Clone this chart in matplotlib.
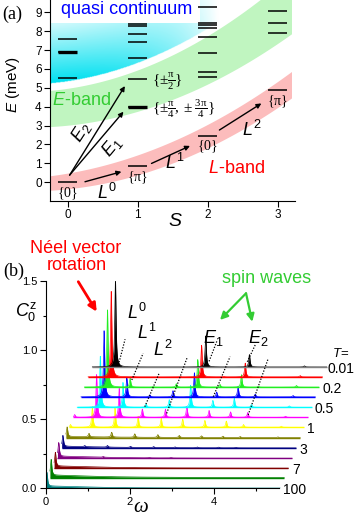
import numpy as np
import matplotlib
matplotlib.use('Agg')
import matplotlib.pyplot as plt
from matplotlib.patches import Rectangle

plt.rcParams['font.family'] = ['Liberation Sans', 'DejaVu Sans']
plt.rcParams['mathtext.fontset'] = 'custom'
plt.rcParams['mathtext.rm'] = 'Liberation Serif'
plt.rcParams['mathtext.it'] = 'Liberation Sans:italic'
plt.rcParams['mathtext.sf'] = 'Liberation Sans'
plt.rcParams['mathtext.bf'] = 'Liberation Sans:bold'

# ---------------- panel (a) data ----------------
spin_S = [0, 1, 2, 3]
levels_S0 = [0.0, 5.5, 6.87, 7.56]
levels_S1 = [0.85, 3.96, 5.44, 6.6, 7.4, 7.83, 8.29, 8.38]
levels_S2 = [2.44, 5.55, 5.82, 6.86, 7.71, 8.19, 8.30, 8.43, 9.26]
levels_S3 = [4.86, 7.92, 8.41, 9.08]
thick_S = [0, 1]
thick_E = [6.87, 3.96]
level_labels = [r'$\mathrm{\{0\}}$', r'$\mathrm{\{\pi\}}$', r'$\mathrm{\{0\}}$', r'$\mathrm{\{\pi\}}$']

band_S = [-0.25, 1.0, 2.0, 3.2]
lband_lo = [-0.42, 0.35, 1.85, 4.45]
lband_hi = [0.35, 1.40, 3.10, 5.85]
eband_lo = [3.0, 3.55, 5.4, 7.8]
eband_hi = [4.9, 5.8, 7.9, 11.0]

# ---------------- panel (b) data ----------------
omega_peaks = [0.03, 0.55, 1.09, 1.64, 2.19, 2.70, 3.23, 3.74, 4.15, 5.05]
trace_labels = ['0.01', '', '0.2', '', '0.5', '', '1', '', '3', '', '7', '', '100']
trace_colors = ['#000000', '#ff0000', '#22ee22', '#0000ff', '#00ffff', '#ff00ff',
                '#ffff00', '#808000', '#000080', '#800080', '#800000', '#008000', '#008080']
x_offsets = [1.11, 1.01, 0.92, 0.84, 0.75, 0.66, 0.56, 0.48, 0.38, 0.28, 0.20, 0.10, 0.0]
y_offsets = [0.879, 0.807, 0.733, 0.662, 0.587, 0.514, 0.442, 0.367, 0.292, 0.217, 0.145, 0.077, 0.0]
peak_heights = [
    [0.0,   0.62, 0.0,   0.0,   0.0,   0.225, 0.0,   0.09,  0.0,   0.008],
    [0.0,   0.62, 0.005, 0.0,   0.004, 0.23,  0.004, 0.10,  0.0,   0.010],
    [0.0,   0.56, 0.065, 0.005, 0.025, 0.20,  0.02,  0.09,  0.005, 0.012],
    [0.0,   0.48, 0.14,  0.015, 0.045, 0.175, 0.035, 0.075, 0.02,  0.010],
    [0.0,   0.37, 0.18,  0.025, 0.055, 0.16,  0.05,  0.065, 0.02,  0.010],
    [0.02,  0.31, 0.21,  0.06,  0.06,  0.08,  0.05,  0.04,  0.035, 0.008],
    [0.02,  0.15, 0.14,  0.08,  0.065, 0.06,  0.05,  0.045, 0.02,  0.008],
    [0.07,  0.025, 0.035, 0.025, 0.02, 0.015, 0.012, 0.010, 0.008, 0.005],
    [0.08,  0.008, 0.012, 0.008, 0.008, 0.006, 0.006, 0.005, 0.004, 0.0],
    [0.10,  0.0,  0.006, 0.0,   0.004, 0.004, 0.0,   0.0,   0.0,   0.0],
    [0.10,  0.0,  0.0,   0.0,   0.0,   0.0,   0.0,   0.0,   0.0,   0.0],
    [0.115, 0.0,  0.0,   0.0,   0.0,   0.0,   0.0,   0.0,   0.0,   0.0],
    [0.10,  0.0,  0.0,   0.0,   0.0,   0.0,   0.0,   0.0,   0.0,   0.0],
]
broad_heights = [0, 0, 0, 0, 0, 0, 0, 0.008, 0.012, 0.015, 0.016, 0.018, 0.016]
omega_max = 5.58

W, H = 354, 516
fig = plt.figure(figsize=(W / 100, H / 100), dpi=100)

# ================= panel (a) =================
axa = fig.add_axes([50 / W, 1 - 201 / H, 245 / W, 201 / H])
axa.set_xlim(-0.25, 3.25)
axa.set_ylim(-1.0, 9.65)
for sp in ['top', 'right']:
    axa.spines[sp].set_visible(False)

Sfine = np.linspace(-0.25, 3.25, 400)
p_llo = np.polyfit(band_S, lband_lo, 2)
p_lhi = np.polyfit(band_S, lband_hi, 2)
p_elo = np.polyfit(band_S, eband_lo, 2)
p_ehi = np.polyfit(band_S, eband_hi, 2)
Sb = np.linspace(-0.25, 3.2, 300)
axa.fill_between(Sb, np.polyval(p_llo, Sb), np.polyval(p_lhi, Sb), color='#fcbcbc', lw=0, zorder=1)
axa.fill_between(Sb, np.polyval(p_elo, Sb), np.polyval(p_ehi, Sb), color='#c0f5c0', lw=0, zorder=1)

# quasi continuum gradient
gap = 0.38
Eg = np.linspace(-1.0, 9.65, 400)
SS, EE = np.meshgrid(Sfine, Eg)
lower = np.polyval(p_ehi, SS) + gap
d = EE - lower
I = 1 - 0.8 * np.clip(d / 3.1, 0, 1)
f = np.clip(1 - ((SS + 0.25) / 2.4) ** 2, 0, 1)
I = I * f
cyan = np.array([0.0, 0.88, 0.94])
img = np.ones((400, 400, 4))
for k in range(3):
    img[..., k] = 1 - I * (1 - cyan[k])
img[..., 3] = (d > 0).astype(float)
axa.imshow(img, extent=[-0.25, 3.25, -1.0, 9.65], origin='lower', aspect='auto',
           interpolation='bilinear', zorder=0.5)
axa.add_patch(Rectangle((-0.25, 8.42), 2.14, 2.0, facecolor='white', edgecolor='none', zorder=0.8))

hw = 0.14
for s, lev in zip(spin_S, [levels_S0, levels_S1, levels_S2, levels_S3]):
    axa.hlines(lev, s - hw, s + hw, colors='k', lw=1.1, zorder=3)
axa.hlines(thick_E, np.array(thick_S) - hw, np.array(thick_S) + hw, colors='k', lw=2.4, zorder=3)

# level labels
lab_E = [-0.6, 0.25, 1.87, 4.26]
for s, e, t in zip(spin_S, lab_E, level_labels):
    axa.text(s, e, t, ha='center', va='center', fontsize=10, zorder=4)
axa.text(1.2, 5.35, r'$\mathrm{\{\pm\frac{\pi}{2}\}}$', ha='left', va='center', fontsize=11, zorder=4)
axa.text(1.2, 3.92, r'$\mathrm{\{\pm\frac{\pi}{4},\pm\frac{3\pi}{4}\}}$', ha='left', va='center', fontsize=11, zorder=4)

# transition arrows
arr_kw = dict(arrowstyle='-|>', lw=1.0, color='k', mutation_scale=7, shrinkA=0, shrinkB=0)
for (x0, y0), (x1, y1) in [((0.25, 0.02), (0.77, 0.55)), ((1.2, 0.99), (1.75, 1.92)),
                           ((2.17, 2.76), (2.77, 4.17)), ((0.03, 0.37), (0.8, 3.73)),
                           ((0.03, 0.37), (0.82, 5.09))]:
    axa.annotate('', xy=(x1, y1), xytext=(x0, y0), arrowprops=arr_kw, zorder=5)

axa.text(0.566, -0.55, r'$L^{\mathsf{0}}$', fontsize=13, ha='center', va='center')
axa.text(1.53, 0.99, r'$L^{\mathsf{1}}$', fontsize=13, ha='center', va='center')
axa.text(2.63, 2.76, r'$L^{\mathsf{2}}$', fontsize=13, ha='center', va='center')
axa.text(0.2, 2.67, r'$E_{\mathsf{2}}$', fontsize=13, ha='center', va='center', rotation=57)
axa.text(0.63, 1.87, r'$E_{\mathsf{1}}$', fontsize=13, ha='center', va='center', rotation=50)
axa.text(-0.22, 4.35, r'$E$-band', fontsize=13, ha='left', va='center', color='#33cc33')
axa.text(2.42, 0.73, r'$L$-band', fontsize=13, ha='center', va='center', color='#ff0000')
axa.text(0.84, 9.17, 'quasi continuum', fontsize=13, ha='center', va='center', color='#0000ff', zorder=4)

axa.set_xticks([0, 1, 2, 3])
axa.set_yticks(range(10))
axa.tick_params(direction='out', length=4, width=0.8, labelsize=8.5, pad=2)
fig.text(175 / W, 1 - 221 / H, r'$S$', fontsize=14, ha='center', va='center')
fig.text(12.5 / W, 1 - 85 / H, r'$E$ (meV)', fontsize=11, ha='center', va='center', rotation=90)
fig.text(12 / W, 1 - 14 / H, '(a)', fontsize=13, ha='center', va='center', family='Liberation Serif')

# ================= panel (b) =================
xmax_b = (W - 45.7) / 42
axb = fig.add_axes([45.7 / W, 1 - 488.3 / H, (W - 45.7) / W, 207 / H])
axb.set_xlim(0, xmax_b)
axb.set_ylim(0, 1.5)
for sp in ['top', 'right']:
    axb.spines[sp].set_visible(False)
axb.spines['bottom'].set_bounds(0, 5.55)

w = np.linspace(0, omega_max, 4000)
g = 0.018
n = len(trace_colors)
label_xmax = xmax_b - 0.62
for i in reversed(range(n)):
    c = trace_colors[i]
    xo, yo = x_offsets[i], y_offsets[i]
    y = np.zeros_like(w)
    for w0, h in zip(omega_peaks, peak_heights[i]):
        if h > 0:
            y += h / (1 + ((w - w0) / g) ** 2)
    if broad_heights[i] > 0:
        y += broad_heights[i] / (1 + (w / 1.2) ** 2)
    z = 2 + (n - i) * 0.1
    axb.fill_between(w + xo, yo, yo + y, color=c, lw=0, zorder=z)
    axb.plot(w + xo, yo + y, color=c, lw=0.5, zorder=z)
    bc = '#808080' if c == '#000000' else c
    axb.plot([xo, xo + omega_max], [yo, yo], color=bc, lw=1.0, zorder=z, solid_capstyle='butt')
    if trace_labels[i]:
        lx = min(xo + omega_max + 0.08, label_xmax)
        axb.text(lx, yo - 0.012, trace_labels[i], fontsize=10, ha='left', va='center', zorder=12)
axb.text(label_xmax + 0.1, y_offsets[0] + 0.095, r'$T$=', fontsize=9.5, ha='left', va='center')

dotted = [((1.73, 0.893), (1.89, 1.08)), ((2.05, 0.785), (2.32, 0.978)),
          ((2.36, 0.591), (2.70, 0.833)), ((2.88, 0.543), (3.37, 0.949)),
          ((3.89, 0.92), (4.08, 1.07)), ((3.99, 0.664), (4.39, 0.954)),
          ((4.80, 0.917), (4.99, 1.04)), ((4.82, 0.531), (5.30, 0.942))]
for (x0, y0), (x1, y1) in dotted:
    axb.plot([x0, x1], [y0, y1], color='k', lw=0.9, ls=(0, (1, 1.3)), zorder=10)

axb.text(2.167, 1.268, r'$L^{\mathsf{0}}$', fontsize=13, ha='center', va='center')
axb.text(2.405, 1.123, r'$L^{\mathsf{1}}$', fontsize=13, ha='center', va='center')
axb.text(2.80, 1.00, r'$L^{\mathsf{2}}$', fontsize=13, ha='center', va='center')
axb.text(3.99, 1.087, r'$E_{\mathsf{1}}$', fontsize=13, ha='center', va='center')
axb.text(5.062, 1.087, r'$E_{\mathsf{2}}$', fontsize=13, ha='center', va='center')

axb.text(0.72, 1.739, 'Néel vector', fontsize=13, ha='center', va='center', color='#ff0000')
axb.text(0.74, 1.618, 'rotation', fontsize=13, ha='center', va='center', color='#ff0000')
axb.annotate('', xy=(1.214, 1.28), xytext=(0.776, 1.497), annotation_clip=False,
             arrowprops=dict(arrowstyle='-|>', lw=2.0, color='#ff0000', mutation_scale=12,
                             shrinkA=0, shrinkB=0))
axb.text(5.262, 1.522, 'spin waves', fontsize=13, ha='center', va='center', color='#33cc33')
for tgt in [(4.15, 1.22), (4.919, 1.207)]:
    axb.annotate('', xy=tgt, xytext=(4.77, 1.413), annotation_clip=False,
                 arrowprops=dict(arrowstyle='-|>', lw=1.6, color='#33cc33', mutation_scale=11,
                                 shrinkA=0, shrinkB=0))

axb.set_xticks([0, 2, 4])
axb.set_xticks([1, 3, 5], minor=True)
axb.set_yticks([0, 0.5, 1.0, 1.5])
axb.set_yticklabels(['0.0', '0.5', '1.0', '1.5'])
axb.set_yticks([0.25, 0.75, 1.25], minor=True)
axb.tick_params(which='both', direction='out', width=0.8, labelsize=8, pad=2)
axb.tick_params(which='major', length=4)
axb.tick_params(which='minor', length=2.5)

fig.text(25.8 / W, 1 - 311.7 / H, r'$C_{\mathsf{0}}^{\mathsf{z}}$', fontsize=13, ha='center', va='center')
fig.text(141 / W, 1 - 508 / H, 'ω', fontsize=15, ha='center', va='center',
         family='Liberation Serif', style='italic')
fig.text(13.3 / W, 1 - 271.7 / H, '(b)', fontsize=13, ha='center', va='center', family='Liberation Serif')

fig.savefig('out.png', dpi=100)
